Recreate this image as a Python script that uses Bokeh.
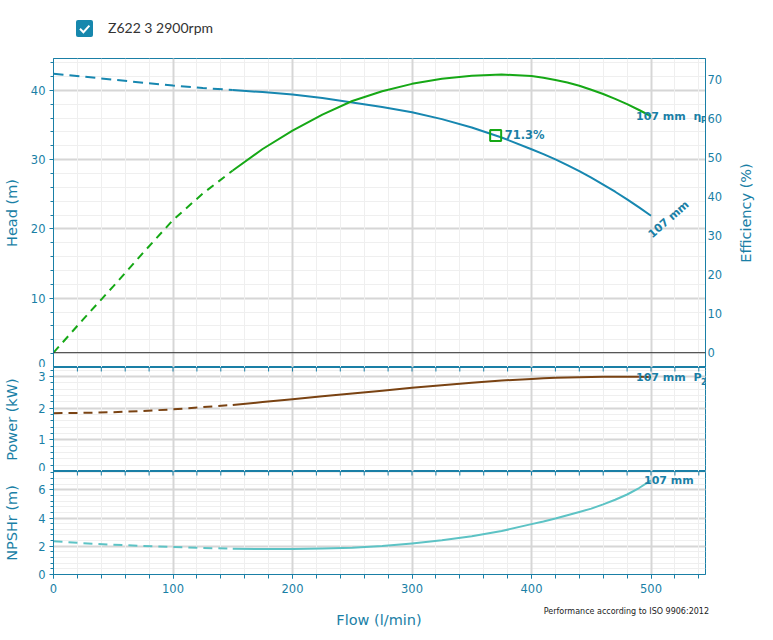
import numpy as np
from bokeh.plotting import figure
from bokeh.layouts import column, row
from bokeh.models import (Range1d, LinearAxis, SingleIntervalTicker, Span,
                          Div, Grid)
from bokeh.embed import file_html
from bokeh.resources import INLINE
from bokeh.core.properties import value

# ---------------- data ----------------
flow = [0, 25, 50, 75, 100, 125, 150, 175, 200, 225, 250, 275, 300,
        325, 350, 375, 400, 410, 420, 430, 440, 450, 460, 470, 480, 490, 500]
head = [42.4, 42.0, 41.55, 41.1, 40.7, 40.35, 40.05, 39.75, 39.4, 38.9,
        38.25, 37.6, 36.85, 35.85, 34.65, 33.2, 31.5, 30.79, 30.03, 29.21,
        28.33, 27.4, 26.41, 25.37, 24.27, 23.11, 21.9]
eff = [0.0, 8.6, 17.0, 25.6, 34.0, 40.8, 46.7, 52.2, 56.9, 61.0, 64.5,
       67.0, 68.9, 70.2, 71.0, 71.3, 70.9, 70.45, 69.9, 69.25, 68.4, 67.4,
       66.3, 65.05, 63.7, 62.2, 60.6]
power = [1.84, 1.85, 1.87, 1.91, 1.96, 2.03, 2.10, 2.19, 2.28, 2.37, 2.46,
         2.55, 2.64, 2.72, 2.80, 2.87, 2.92, 2.94, 2.955, 2.965, 2.975,
         2.98, 2.985, 2.99, 2.99, 2.985, 2.98]
npsh = [2.36, 2.22, 2.11, 2.02, 1.95, 1.88, 1.83, 1.81, 1.81, 1.84, 1.90,
        2.02, 2.20, 2.42, 2.71, 3.08, 3.57, 3.76, 3.97, 4.20, 4.43, 4.67,
        4.97, 5.30, 5.67, 6.13, 6.67]
dash_until = 150          # curves are dashed below this flow
bep_flow = 370
bep_head = 33.5
bep_label = "71.3%"
trim_label = "107 mm"
legend_label = "Z622 3 2900rpm"
x_title = "Flow (l/min)"
eff_title = "Efficiency (%)"
note = "Performance according to ISO 9906:2012"
x_major, x_minor_n = 100, 5

# ---------------- style ----------------
TEAL = "#1a7fa6"
HEAD_C = "#1787b0"
EFF_C = "#16a816"
POW_C = "#7a4313"
NPSH_C = "#5dc3c5"
GRID_MAJ = "#d6d6d6"
GRID_MIN = "#efefef"
FONT = "DejaVu Sans"
NB = "\u00a0"

W = 765
BL = 53
BR = 60
EFF_W = 35
xr = Range1d(0, 545.6)
xt = SingleIntervalTicker(interval=x_major, num_minor_ticks=x_minor_n)

s = flow.index(dash_until)
# tick positions of the x ticker (used for the small ticks between panels)
tick_x = np.arange(0, xr.end, x_major / x_minor_n)


def make_fig(width, height, y_range, top, bottom, right):
    p = figure(width=width, height=height, x_range=xr, y_range=y_range,
               x_axis_type=None, output_backend="svg", toolbar_location=None,
               min_border_left=BL, min_border_right=right,
               min_border_top=top, min_border_bottom=bottom,
               outline_line_color=TEAL, outline_line_width=1,
               background_fill_color="white", border_fill_color="white")
    p.add_layout(Grid(dimension=0, ticker=xt, grid_line_color=GRID_MAJ,
                      grid_line_width=2, minor_grid_line_color=GRID_MIN,
                      minor_grid_line_width=1), "center")
    return p


def style_left(p, label, interval, standoff):
    ax = p.yaxis[0]
    ax.ticker = SingleIntervalTicker(interval=interval, num_minor_ticks=5)
    ax.axis_label = label
    ax.axis_label_standoff = standoff
    ax.axis_label_text_font = FONT
    ax.axis_label_text_font_size = "14.5px"
    ax.axis_label_text_font_style = "normal"
    ax.axis_label_text_color = TEAL
    ax.major_label_text_font = FONT
    ax.major_label_text_font_size = "11.5px"
    ax.major_label_text_color = TEAL
    ax.major_label_standoff = 4
    ax.axis_line_color = TEAL
    ax.major_tick_line_color = TEAL
    ax.minor_tick_line_color = TEAL
    ax.major_tick_out = 4
    ax.major_tick_in = 0
    ax.minor_tick_out = 3
    ax.minor_tick_in = 0
    g = p.ygrid[0]
    g.grid_line_color = GRID_MAJ
    g.grid_line_width = 2
    g.minor_grid_line_color = GRID_MIN
    g.minor_grid_line_width = 1


def top_ticks(p):
    # ticks of the panel above, hanging into this panel
    p.scatter(tick_x, [p.y_range.end] * len(tick_x), marker="dash",
              angle=np.pi / 2, size=8, line_color=TEAL, line_width=1)


def two_lines(p, y, color, dash, **kw):
    p.line(flow[:s + 1], y[:s + 1], line_color=color, line_width=2,
           line_dash=dash, **kw)
    p.line(flow[s:], y[s:], line_color=color, line_width=2,
           line_join="round", **kw)


def curve_text(p, x, y, txt, size="11px", **kw):
    p.text([x], [y], text=[txt], text_font=value(FONT),
           text_font_style="bold", text_font_size=size, text_color=TEAL, **kw)


# ---------------- legend (checkbox) ----------------
legend_html = f'''<div style="position:relative;width:{W}px;height:48px;">
<svg style="position:absolute;left:76px;top:20px" width="17" height="17">
<rect x="0" y="0" width="17" height="17" rx="2" fill="#1687ad"/>
<path d="M4 8.8 L7.4 12.2 L13.4 5.6" stroke="white" stroke-width="2" fill="none"/>
</svg>
<span style="position:absolute;left:108px;top:18px;font-family:Lato, sans-serif;font-size:14px;line-height:20px;color:#333;white-space:nowrap">{legend_label}</span>
</div>'''
div = Div(text=legend_html, width=W, height=48, margin=(0, 0, 0, 0))

# ---------------- head / efficiency panel ----------------
P1_W = W - EFF_W
p1 = make_fig(P1_W, 319, Range1d(0, 44.6), 10, 0, P1_W - 705)
p1.extra_y_ranges = {"eff": Range1d(-3.8, 75.4)}
style_left(p1, "Head (m)", 10, 8)

eff_axis = LinearAxis(y_range_name="eff",
                      ticker=SingleIntervalTicker(interval=10, num_minor_ticks=0))
eff_axis.major_label_text_font = FONT
eff_axis.major_label_text_font_size = "11.5px"
eff_axis.major_label_text_color = TEAL
eff_axis.major_label_standoff = 2
eff_axis.major_tick_out = 0
eff_axis.major_tick_in = 0
eff_axis.minor_tick_out = 0
eff_axis.axis_line_color = TEAL
p1.add_layout(eff_axis, "right")

p1.add_layout(Span(location=0, dimension="width", y_range_name="eff",
                   line_color="#333333", line_width=1))

two_lines(p1, head, HEAD_C, "10 6")
two_lines(p1, eff, EFF_C, "8 6", y_range_name="eff")

p1.scatter([bep_flow], [bep_head], marker="square", size=11,
           fill_color=None, line_color=EFF_C, line_width=2)
curve_text(p1, bep_flow, bep_head, bep_label, size="11.5px", x_offset=9,
           text_baseline="middle")
curve_text(p1, flow[-1], head[-1], trim_label, angle=0.72, x_offset=-1,
           y_offset=20, text_baseline="alphabetic")
curve_text(p1, flow[-1], eff[-1], trim_label + NB + NB + "\u03b7",
           x_offset=-15, text_baseline="middle", y_range_name="eff")
curve_text(p1, flow[-1], eff[-1], "P", size="8px", x_offset=50,
           y_offset=4, text_baseline="middle", y_range_name="eff")

eff_html = f'''<div style="position:relative;width:{EFF_W}px;height:319px;">
<span style="position:absolute;left:15.5px;top:164.5px;transform:translate(-50%,-50%) rotate(-90deg);white-space:nowrap;font-family:'DejaVu Sans';font-size:14.5px;color:{TEAL}">{eff_title}</span>
</div>'''
eff_div = Div(text=eff_html, width=EFF_W, height=319, margin=(0, 0, 0, 0))

# ---------------- power panel ----------------
p2 = make_fig(W, 104, Range1d(0, 3.28), 0, 0, BR)
style_left(p2, "Power (kW)", 1, 15)
top_ticks(p2)
two_lines(p2, power, POW_C, "9 6")
curve_text(p2, flow[-1], power[-1], trim_label + NB + NB + "P", x_offset=-15,
           text_baseline="middle")
curve_text(p2, flow[-1], power[-1], "2", size="8px", x_offset=50,
           y_offset=4, text_baseline="middle")

# ---------------- NPSH panel ----------------
p3 = make_fig(W, 129, Range1d(0, 7.3), 0, 26, BR)
style_left(p3, "NPSHr (m)", 2, 15)
top_ticks(p3)
xax = LinearAxis(ticker=xt)
xax.major_label_text_font = FONT
xax.major_label_text_font_size = "11.5px"
xax.major_label_text_color = TEAL
xax.major_label_standoff = 5
xax.axis_line_color = TEAL
xax.major_tick_line_color = TEAL
xax.minor_tick_line_color = TEAL
xax.major_tick_out = 4
xax.major_tick_in = 0
xax.minor_tick_out = 4
xax.minor_tick_in = 0
p3.add_layout(xax, "below")

two_lines(p3, npsh, NPSH_C, "9 6")
curve_text(p3, flow[-1], npsh[-1], trim_label, x_offset=-7,
           text_baseline="middle")

# ---------------- x title + note ----------------
bottom_html = f'''<div style="position:relative;width:{W}px;height:32px;">
<span style="position:absolute;left:379px;top:20px;transform:translate(-50%,-50%);white-space:nowrap;font-family:'DejaVu Sans';font-size:14.5px;color:{TEAL}">{x_title}</span>
<span style="position:absolute;right:{W - 709}px;top:12px;transform:translate(0,-50%);white-space:nowrap;font-family:'DejaVu Sans';font-size:8px;color:#222">{note}</span>
</div>'''
bottom_div = Div(text=bottom_html, width=W, height=32, margin=(0, 0, 0, 0))

layout = column(div, row(p1, eff_div, spacing=0), p2, p3, bottom_div,
                spacing=0)
open("out.html", "w").write(file_html(layout, INLINE))
